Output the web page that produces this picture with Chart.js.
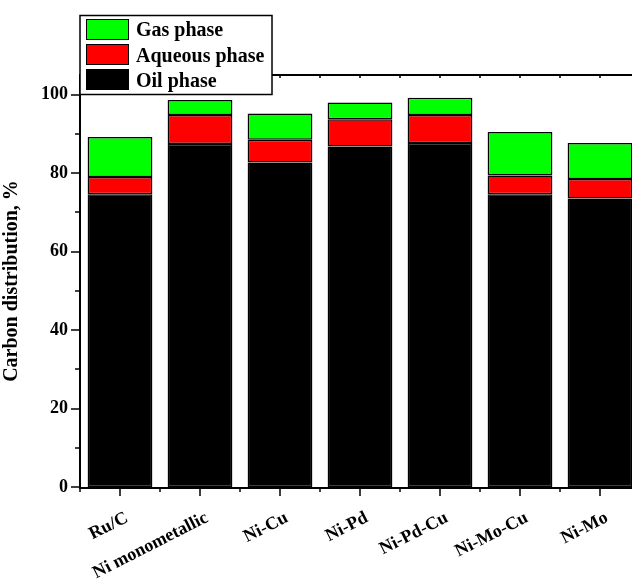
<!DOCTYPE html>
<html>
<head>
<meta charset="utf-8">
<script src="https://cdn.jsdelivr.net/npm/chart.js@4/dist/chart.umd.min.js"></script>
<style>
  html, body { margin: 0; padding: 0; background: #fff; overflow: hidden; }
  #wrap { width: 640px; height: 581px; position: relative; }
</style>
</head>
<body>
<div id="wrap"><canvas id="c" width="640" height="581"></canvas></div>
<script>
// Catalysts and the share of carbon (%) ending up in each product phase
const categories   = ['Ru/C', 'Ni monometallic', 'Ni-Cu', 'Ni-Pd', 'Ni-Pd-Cu', 'Ni-Mo-Cu', 'Ni-Mo'];
const oilPhase     = [74.6, 87.4, 82.7, 86.8, 87.7, 74.6, 73.5];
const aqueousPhase = [4.4, 7.4, 5.8, 6.9, 7.1, 4.8, 5.0];
const gasPhase     = [10.2, 3.8, 6.7, 4.3, 4.4, 11.1, 9.2];
const seriesNames  = ['Oil phase', 'Aqueous phase', 'Gas phase'];
const yTicks       = [0, 20, 40, 60, 80, 100];
const yMinorTicks  = [10, 30, 50, 70, 90];
const yTitle       = 'Carbon distribution, %';

const SERIF = '"Liberation Serif", "Times New Roman", Times, serif';
const COLORS = ['#000000', '#ff0000', '#00ff00'];

// Axis frame, tick marks, rotated category labels and the boxed legend
const framePlugin = {
  id: 'frame',
  afterDraw(chart) {
    const { ctx, chartArea: a, scales: { x, y } } = chart;
    const line = (x1, y1, x2, y2) => { ctx.moveTo(x1, y1); ctx.lineTo(x2, y2); };
    ctx.save();
    ctx.strokeStyle = '#000';
    ctx.lineCap = 'butt';

    // frame lines
    ctx.lineWidth = 2;
    ctx.beginPath();
    line(a.left - 1, a.top, a.right, a.top);
    line(a.left, a.top, a.left, a.bottom + 2);
    line(a.left - 1, a.bottom + 1, a.right, a.bottom + 1);
    ctx.stroke();

    // y ticks (outward)
    ctx.lineWidth = 1.5;
    ctx.beginPath();
    yTicks.forEach(v => { const py = Math.round(y.getPixelForValue(v)); line(a.left - 9, py, a.left, py); });
    yMinorTicks.forEach(v => { const py = Math.round(y.getPixelForValue(v)); line(a.left - 5, py, a.left, py); });

    // x ticks: major at category centres, minor at category boundaries
    const step = x.getPixelForValue(1) - x.getPixelForValue(0);
    categories.forEach((c, i) => {
      const px = x.getPixelForValue(i);
      line(px, a.bottom + 1, px, a.bottom + 9);
      line(px - step / 2, a.bottom + 1, px - step / 2, a.bottom + 5);
      line(px, a.top, px, a.top + 3);
      line(px - step / 2, a.top, px - step / 2, a.top + 3);
    });
    ctx.stroke();

    // rotated category labels
    ctx.fillStyle = '#000';
    ctx.font = 'bold 18px ' + SERIF;
    ctx.textAlign = 'right';
    ctx.textBaseline = 'alphabetic';
    categories.forEach((c, i) => {
      const px = x.getPixelForValue(i);
      ctx.save();
      ctx.translate(px + 9, a.bottom + 34);
      ctx.rotate(-27 * Math.PI / 180);
      ctx.fillText(c, 0, 0);
      ctx.restore();
    });

    // legend box (top series listed first)
    const lx = 80, ly = 15.5, lw = 192, lh = 79;
    ctx.fillStyle = '#fff';
    ctx.fillRect(lx, ly, lw, lh);
    ctx.lineWidth = 1.5;
    ctx.strokeRect(lx, ly, lw, lh);
    const ds = chart.data.datasets.slice().reverse();
    ctx.font = 'bold 20px ' + SERIF;
    ctx.textAlign = 'left';
    ds.forEach((d, k) => {
      const sy = 19.5 + k * 25;
      ctx.fillStyle = d.backgroundColor;
      ctx.fillRect(86.5, sy, 42, 20);
      ctx.lineWidth = 1;
      ctx.strokeStyle = '#000';
      ctx.strokeRect(86.5, sy, 42, 20);
      ctx.fillStyle = '#000';
      ctx.fillText(d.label, 136, 36 + k * 25.5);
    });
    ctx.restore();
  }
};

new Chart(document.getElementById('c'), {
  type: 'bar',
  data: {
    labels: categories,
    datasets: [oilPhase, aqueousPhase, gasPhase].map((vals, i) => ({
      label: seriesNames[i],
      data: vals,
      backgroundColor: COLORS[i],
      borderColor: '#000',
      borderWidth: 1.5,
      borderSkipped: false,
      barPercentage: 0.81,
      categoryPercentage: 1.0
    }))
  },
  options: {
    responsive: false,
    animation: false,
    devicePixelRatio: 1,
    layout: { padding: { top: 75, left: 0, right: 0, bottom: 0 } },
    plugins: { legend: { display: false }, tooltip: { enabled: false } },
    scales: {
      x: {
        stacked: true,
        grid: { display: false, drawTicks: false },
        border: { display: false },
        ticks: { display: false },
        afterFit(scale) { scale.height = 94; }
      },
      y: {
        stacked: true,
        min: 0,
        max: 105,
        grid: { display: false, drawTicks: false },
        border: { display: false },
        afterBuildTicks(scale) { scale.ticks = yTicks.map(v => ({ value: v })); },
        ticks: {
          padding: 12,
          color: '#000',
          font: { family: SERIF, size: 18, weight: 'bold' }
        },
        title: {
          display: true,
          text: yTitle,
          color: '#000',
          padding: { top: 0, bottom: 0 },
          font: { family: SERIF, size: 20, weight: 'bold' }
        },
        afterFit(scale) { scale.width = 80; }
      }
    }
  },
  plugins: [framePlugin]
});
</script>
</body>
</html>
